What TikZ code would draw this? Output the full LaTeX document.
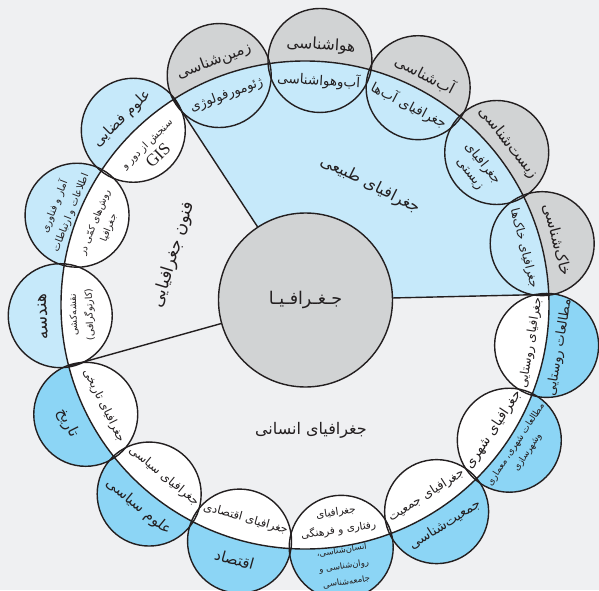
\documentclass[tikz,border=0pt]{standalone}
\usepackage{fontspec}
\newfontfamily\arabicfont[Script=Arabic]{DejaVu Sans}
\newfontfamily\gisfont{Liberation Serif}
\TeXXeTstate=1
\usetikzlibrary{calc}
\newcommand{\fa}[1]{\beginR #1\endR}
\definecolor{bgc}{RGB}{239,240,242}
\definecolor{grayc}{RGB}{209,211,212}
\definecolor{lblue}{RGB}{198,233,250}
\definecolor{mblue}{RGB}{140,213,245}
\definecolor{linec}{RGB}{35,31,32}
\begin{document}
\begin{tikzpicture}[x=1pt,y=1pt,
  ln/.style={draw=linec, line width=1.4pt},
  lab/.style 2 args={font=\arabicfont\fontsize{#1}{#2}\selectfont, text=linec, inner sep=0pt, align=center}]
\useasboundingbox (0,0) rectangle (599,590);
\clip (0,0) rectangle (599,590);
\fill[bgc] (0,0) rectangle (599,590);
\coordinate (C) at (305,285);
\coordinate (G) at (305.5,290);
\coordinate (t1) at ($(C)+(122.5:244pt)$);
\coordinate (t2) at ($(C)+(2.5:244pt)$);
\coordinate (t3) at ($(C)+(-165.5:244pt)$);
% physical geography wedge
\fill[lblue] (G) -- (t2) arc[start angle=2.5, end angle=122.5, radius=244pt] -- cycle;
% ring circle centres
\foreach \k/\a in {1/110.5,2/86.5,3/62.5,4/38.5,5/14.5,6/-9.5,7/-33.5,8/-57.5,9/-81.5,10/-105.5,11/-129.5,12/-153.5,13/-177.5,14/158.5,15/134.5}
  \coordinate (p\k) at ($(C)+(\a:245pt)$);
% fills
\foreach \k/\oc/\ic in {1/grayc/lblue,2/grayc/lblue,3/grayc/lblue,4/grayc/lblue,5/grayc/lblue,
  6/mblue/white,7/mblue/white,8/mblue/white,9/mblue/white,10/mblue/white,11/mblue/white,12/mblue/white,
  13/lblue/white,14/lblue/white,15/lblue/white}{
  \fill[\oc] (p\k) circle[radius=52pt];
  \begin{scope}
    \clip (p\k) circle[radius=52pt];
    \fill[\ic] (C) circle[radius=244pt];
  \end{scope}
}
% sector boundaries
\draw[ln] (G) -- (t1);
\draw[ln] (G) -- (t2);
\draw[ln] (G) -- (t3);
% dividing arcs
\foreach \k in {1,...,15}{
  \begin{scope}
    \clip (p\k) circle[radius=52pt];
    \draw[ln] (C) circle[radius=244pt];
  \end{scope}
}
% outlines
\foreach \k in {1,...,15}
  \draw[ln] (p\k) circle[radius=52pt];
% centre
\node[circle, fill=grayc, ln, minimum size=174pt, inner sep=0pt,
  font=\arabicfont\fontsize{17.5}{20}\selectfont, text=linec] (geo) at (G) {\fa{جـغـرافـیـا}};
% sector labels
\node[lab={16}{18}, rotate=-26.6] (phys) at (370,405) {\fa{جغرافیای طبیعی}};
\node[lab={16}{18}] (hum) at (311,160) {\fa{جغرافیای انسانی}};
\node[lab={17}{18}, rotate=73] (tech) at (173.5,335) {\fa{فنون جغرافیایی}};
% physical
\node[lab={15}{17}, rotate=20.5] (o1) at ($(C)+(110.5:260pt)$) {\fa{زمین‌شناسی}};
\node[lab={13}{15}, rotate=20.5] (i1) at ($(C)+(110.5:224pt)$) {\fa{ژئومورفولوژی}};
\node[lab={15.5}{17}, rotate=-3.5] (o2) at ($(C)+(86.5:260pt)$) {\fa{هواشناسی}};
\node[lab={13.5}{15}, rotate=-3.5] (i2) at ($(C)+(86.5:225pt)$) {\fa{آب‌وهواشناسی}};
\node[lab={15}{17}, rotate=-27.5] (o3) at ($(C)+(62.5:260pt)$) {\fa{آب‌شناسی}};
\node[lab={13.5}{15}, rotate=-27.5] (i3) at ($(C)+(62.5:225pt)$) {\fa{جغرافیای آب‌ها}};
\node[lab={15}{17}, rotate=-51.5] (o4) at ($(C)+(38.5:260pt)$) {\fa{زیست‌شناسی}};
\node[lab={13}{16}, rotate=-51.5] (i4) at ($(C)+(38.5:219pt)$) {\fa{جغرافیای}\\\fa{زیستی}};
\node[lab={15}{17}, rotate=-75.5] (o5) at ($(C)+(14.5:260pt)$) {\fa{خاک‌شناسی}};
\node[lab={12}{14}, rotate=-75.5] (i5) at ($(C)+(14.5:226pt)$) {\fa{جغرافیای خاک‌ها}};
% human
\node[lab={13}{15}, rotate=80.5] (o6) at ($(C)+(-9.5:258pt)$) {\fa{مطالعات روستایی}};
\node[lab={12}{14}, rotate=80.5] (i6) at ($(C)+(-9.5:229pt)$) {\fa{جغرافیای روستایی}};
\node[lab={9.2}{14}, rotate=56.5] (o7) at ($(C)+(-33.5:260pt)$) {\fa{مطالعات شهری، معماری}\\\fa{وشهرسازی}};
\node[lab={13.5}{15}, rotate=56.5] (i7) at ($(C)+(-33.5:226pt)$) {\fa{جغرافیای شهری}};
\node[lab={13.5}{15}, rotate=32.5] (o8) at ($(C)+(-57.5:260pt)$) {\fa{جمعیت‌شناسی}};
\node[lab={12.3}{14}, rotate=32.5] (i8) at ($(C)+(-57.5:226pt)$) {\fa{جغرافیای جمعیت}};
\node[lab={8.5}{16}, rotate=8.5] (o9) at ($(C)+(-81.5:264pt)$) {\fa{انسان‌شناسی،}\\\fa{روان‌شناسی و}\\\fa{جامعه‌شناسی}};
\node[lab={10.5}{18}, rotate=8.5] (i9) at ($(C)+(-81.5:219pt)$) {\fa{جغرافیای}\\\fa{رفتاری و فرهنگی}};
\node[lab={15}{17}, rotate=-15.5] (o10) at ($(C)+(-105.5:264pt)$) {\fa{اقتصاد}};
\node[lab={11.5}{14}, rotate=-15.5] (i10) at ($(C)+(-105.5:222pt)$) {\fa{جغرافیای اقتصادی}};
\node[lab={14.5}{17}, rotate=-39.5] (o11) at ($(C)+(-129.5:262pt)$) {\fa{علوم سیاسی}};
\node[lab={12}{14}, rotate=-39.5] (i11) at ($(C)+(-129.5:222pt)$) {\fa{جغرافیای سیاسی}};
\node[lab={15}{17}, rotate=-63.5] (o12) at ($(C)+(-153.5:265pt)$) {\fa{تاریخ}};
\node[lab={11.5}{14}, rotate=-63.5] (i12) at ($(C)+(-153.5:225pt)$) {\fa{جغرافیای تاریخی}};
% techniques
\node[lab={17}{18}, rotate=92.5] (o13) at ($(C)+(-177.5:262pt)$) {\fa{هندسه}};
\node[lab={9.5}{16}, rotate=92.5] (i13) at ($(C)+(-177.5:223pt)$) {\fa{نقشه‌کشی}\\\fa{(کارتوگرافی)}};
\node[lab={10}{17}, rotate=68.5] (o14) at ($(C)+(158.5:261pt)$) {\fa{آمار و فناوری}\\\fa{اطلاعات و ارتباطات}};
\node[lab={9.5}{15}, rotate=68.5] (i14) at ($(C)+(158.5:218pt)$) {\fa{روش‌های کمّی در}\\\fa{جغرافیا}};
\node[lab={14.5}{17}, rotate=44.5] (o15) at ($(C)+(134.5:261pt)$) {\fa{علوم فضایی}};
\node[lab={10}{18}, rotate=44.5] (i15) at ($(C)+(134.5:217pt)$) {\fa{سنجش از دور و}\\{\gisfont\fontsize{17}{17}\selectfont GIS}};
\end{tikzpicture}
\end{document}
